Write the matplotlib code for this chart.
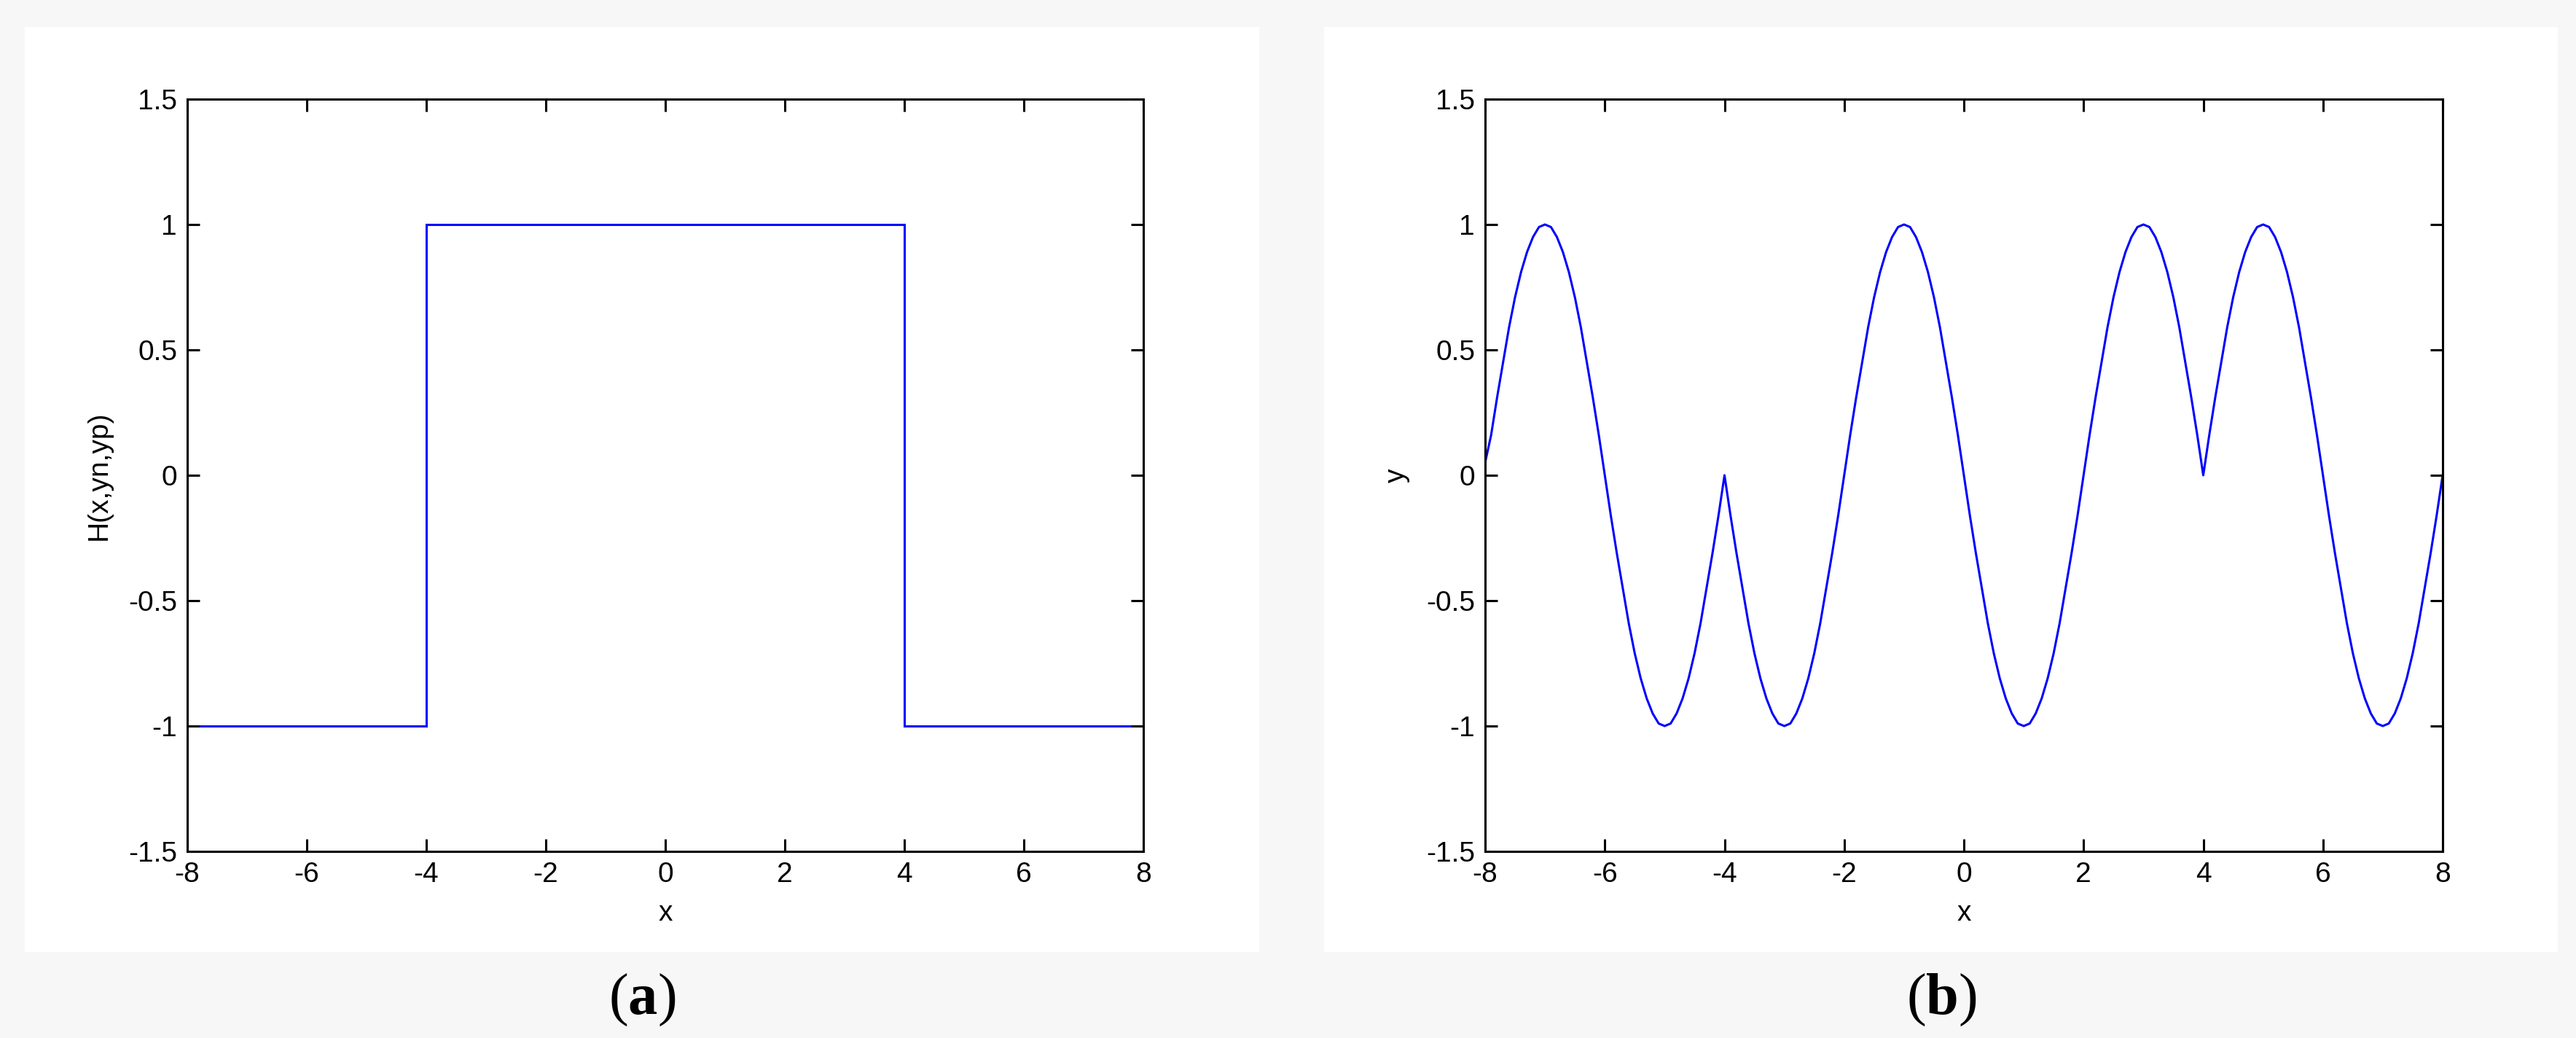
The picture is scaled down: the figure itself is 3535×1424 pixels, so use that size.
import numpy as np
import matplotlib
matplotlib.use("Agg")
import matplotlib.pyplot as plt
from matplotlib.patches import Rectangle

# panel (a): H(x,yn,yp) step function
h_edges = [-8, -4, 4, 8]
h_vals = [-1, 1, -1]

# panel (b): y every 0.1 in x
wave_step = 0.1
y_left = [0.05, 0.16, 0.31, 0.45, 0.59, 0.71, 0.81, 0.89, 0.95, 0.99,
          1.0, 0.99, 0.95, 0.89, 0.81, 0.71, 0.59, 0.45, 0.31, 0.16,
          0.0, -0.16, -0.31, -0.45, -0.59, -0.71, -0.81, -0.89, -0.95, -0.99,
          -1.0, -0.99, -0.95, -0.89, -0.81, -0.71, -0.59, -0.45, -0.31, -0.16,
          0.0]                                                                  # x -8 .. -4
y_mid = [0.0, -0.16, -0.31, -0.45, -0.59, -0.71, -0.81, -0.89, -0.95, -0.99,
         -1.0, -0.99, -0.95, -0.89, -0.81, -0.71, -0.59, -0.45, -0.31, -0.16,
         0.0, 0.16, 0.31, 0.45, 0.59, 0.71, 0.81, 0.89, 0.95, 0.99,
         1.0, 0.99, 0.95, 0.89, 0.81, 0.71, 0.59, 0.45, 0.31, 0.16,
         0.0, -0.16, -0.31, -0.45, -0.59, -0.71, -0.81, -0.89, -0.95, -0.99,
         -1.0, -0.99, -0.95, -0.89, -0.81, -0.71, -0.59, -0.45, -0.31, -0.16,
         0.0, 0.16, 0.31, 0.45, 0.59, 0.71, 0.81, 0.89, 0.95, 0.99,
         1.0, 0.99, 0.95, 0.89, 0.81, 0.71, 0.59, 0.45, 0.31, 0.16,
         0.0]                                                                   # x -4 .. 4
y_right = [0.0, 0.16, 0.31, 0.45, 0.59, 0.71, 0.81, 0.89, 0.95, 0.99,
           1.0, 0.99, 0.95, 0.89, 0.81, 0.71, 0.59, 0.45, 0.31, 0.16,
           0.0, -0.16, -0.31, -0.45, -0.59, -0.71, -0.81, -0.89, -0.95, -0.99,
           -1.0, -0.99, -0.95, -0.89, -0.81, -0.71, -0.59, -0.45, -0.31, -0.16,
           0.0]                                                                 # x 4 .. 8

x_ticks = [-8, -6, -4, -2, 0, 2, 4, 6, 8]
y_ticks = [-1.5, -1, -0.5, 0, 0.5, 1, 1.5]
y_ticklabels = ["-1.5", "-1", "-0.5", "0", "0.5", "1", "1.5"]

wave_y = y_left + y_mid[1:] + y_right[1:]
wave_x = -8 + wave_step * np.arange(len(wave_y))

W, H = 3535, 1424
plt.rcParams["font.family"] = ["Liberation Sans", "DejaVu Sans"]
plt.rcParams["mathtext.fontset"] = "custom"
plt.rcParams["mathtext.rm"] = "Liberation Serif"
plt.rcParams["mathtext.bf"] = "Liberation Serif:bold"

fig = plt.figure(figsize=(W / 100, H / 100), dpi=100, facecolor="#f7f7f7")

# white panels behind each plot
for x0, x1 in [(34, 1728), (1817, 3510)]:
    fig.patches.append(Rectangle((x0 / W, 1 - 1306 / H), (x1 - x0) / W, (1306 - 37) / H,
                                 transform=fig.transFigure, facecolor="white",
                                 edgecolor="none", zorder=-5))

ax1 = fig.add_axes([257 / W, 1 - 1168 / H, 1312 / W, 1032 / H])
ax2 = fig.add_axes([2038 / W, 1 - 1168 / H, 1314 / W, 1032 / H])

ax1.stairs(h_vals, h_edges, baseline=None, color="#0000ff", linewidth=2.2)
ax2.plot(wave_x, wave_y, color="#0000ff", linewidth=2.2)

ax1.set_ylabel("H(x,yn,yp)", fontsize=28, labelpad=16)
ax2.set_ylabel("y", fontsize=28, labelpad=16)

for ax in (ax1, ax2):
    ax.set_xlim(-8, 8)
    ax.set_ylim(-1.5, 1.5)
    ax.set_xticks(x_ticks)
    ax.set_xticklabels([str(t) for t in x_ticks])
    ax.set_yticks(y_ticks)
    ax.set_yticklabels(y_ticklabels)
    ax.tick_params(direction="in", length=12, width=2.2, labelsize=28, pad=10,
                   top=True, right=True)
    for s in ax.spines.values():
        s.set_linewidth(2.2)
    ax.set_xlabel("x", fontsize=28, labelpad=12)

fig.text(881 / W, 1 - 1372 / H, r"($\mathbf{a}$)", fontsize=58, family="Liberation Serif",
         ha="center", va="center")
fig.text(2664 / W, 1 - 1372 / H, r"($\mathbf{b}$)", fontsize=58, family="Liberation Serif",
         ha="center", va="center")

fig.savefig("out.png", dpi=100, facecolor=fig.get_facecolor())
